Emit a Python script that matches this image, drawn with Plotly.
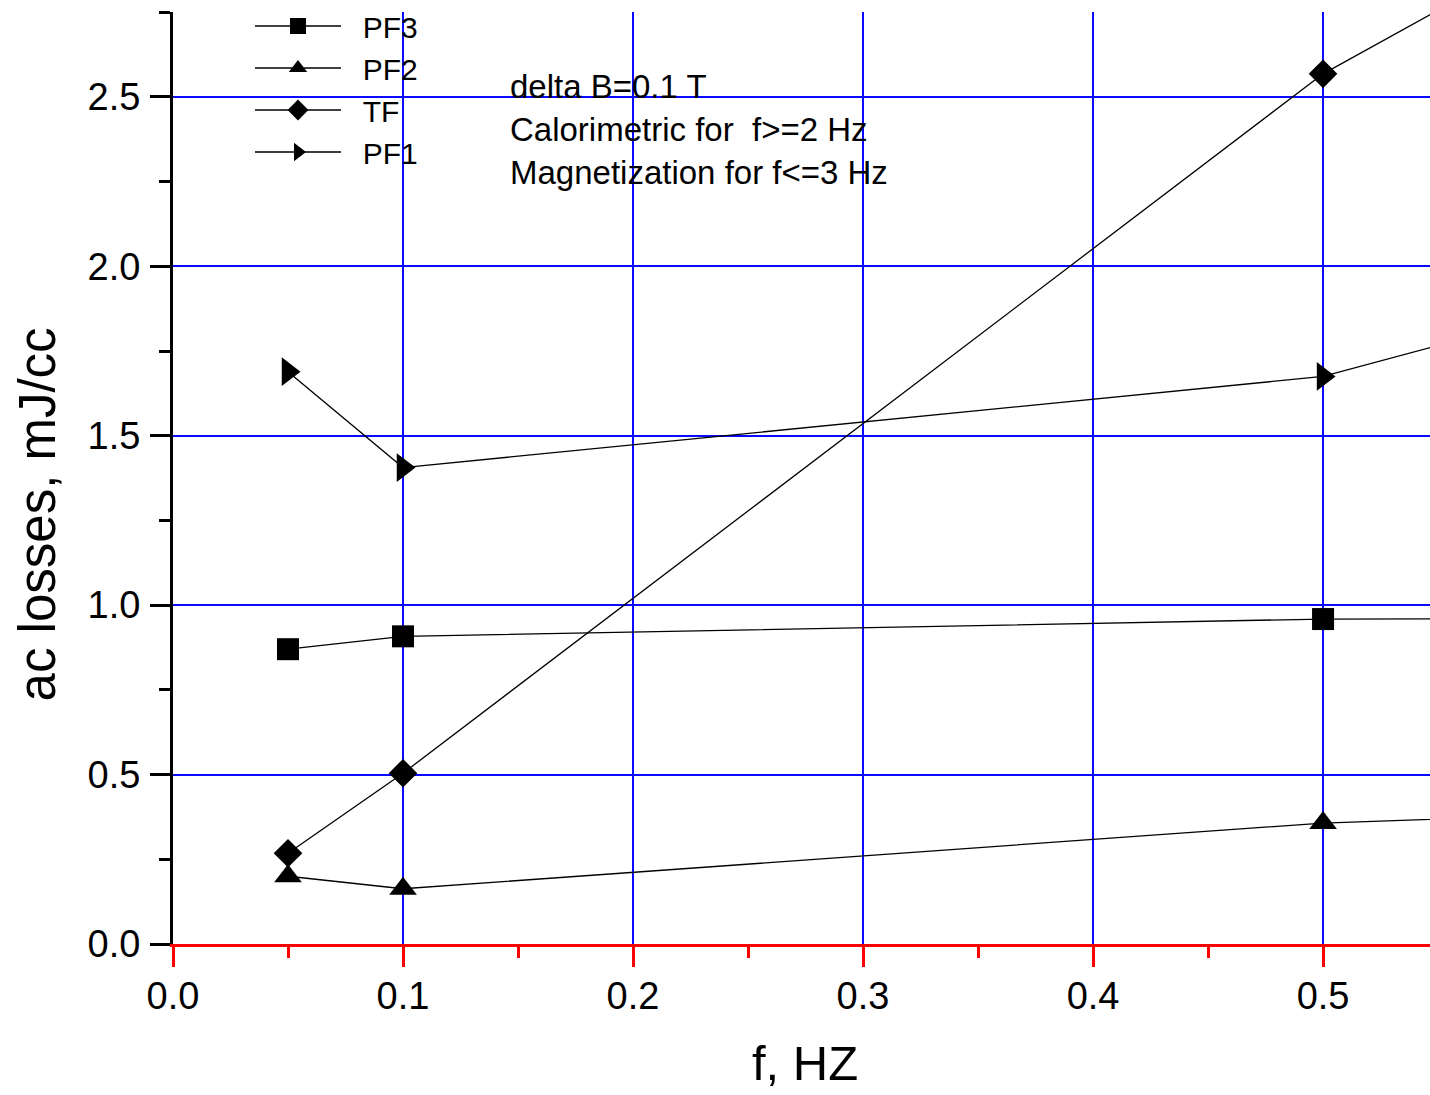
import plotly.graph_objects as go

# Data (f in Hz, ac losses in mJ/cc); last point of each series lies beyond the visible range
freq = [0.05, 0.1, 0.5, 1.0]
pf3 = [0.870, 0.908, 0.959, 0.962]
pf2 = [0.200, 0.163, 0.357, 0.47]
tf = [0.268, 0.504, 2.568, 4.44]
pf1 = [1.689, 1.406, 1.675, 2.59]

series_names = ["PF3", "PF2", "TF", "PF1"]
series_values = [pf3, pf2, tf, pf1]
symbols = ["square", "triangle-up", "diamond", "triangle-right"]
sizes = [22, 24, 22, 25]

x_ticks = [0.0, 0.1, 0.2, 0.3, 0.4, 0.5]
x_tick_labels = ["0.0", "0.1", "0.2", "0.3", "0.4", "0.5"]
y_ticks = [0.0, 0.5, 1.0, 1.5, 2.0, 2.5]
y_tick_labels = ["0.0", "0.5", "1.0", "1.5", "2.0", "2.5"]

FONT = "Liberation Sans, Arial, Helvetica, sans-serif"

fig = go.Figure()
for name, vals, sym, sz in zip(series_names, series_values, symbols, sizes):
    fig.add_trace(go.Scatter(
        x=freq, y=vals, name="\u00a0\u00a0" + name, mode="lines+markers",
        line=dict(color="black", width=1.3),
        marker=dict(symbol=sym, size=sz, color="black", line=dict(width=0)),
    ))

fig.update_layout(
    width=1430, height=1095,
    margin=dict(l=173, r=0, t=11, b=151),
    paper_bgcolor="white", plot_bgcolor="white",
    font=dict(family=FONT, color="black"),
    showlegend=True,
    legend=dict(
        x=(250 - 173) / 1257, y=1.013, xanchor="left", yanchor="top",
        font=dict(size=30, family=FONT, color="black"),
        bgcolor="rgba(0,0,0,0)", borderwidth=0,
        itemwidth=86, tracegroupgap=0,
    ),
    xaxis=dict(
        range=[0, 0.5465], tickvals=x_ticks, ticktext=x_tick_labels,
        showline=True, linecolor="red", linewidth=3,
        ticks="outside", ticklen=20, tickwidth=3, tickcolor="red",
        tickfont=dict(size=38, family=FONT, color="black"),
        ticklabelstandoff=-4,
        showgrid=True, gridcolor="#0a0aff", gridwidth=1.5,
        zeroline=False,
        minor=dict(dtick=0.05, tick0=0, ticks="outside", ticklen=11,
                   tickwidth=3, tickcolor="red", showgrid=False),
    ),
    yaxis=dict(
        range=[0, 2.7505], tickvals=y_ticks, ticktext=y_tick_labels,
        showline=True, linecolor="black", linewidth=3,
        ticks="outside", ticklen=20, tickwidth=3, tickcolor="black",
        tickfont=dict(size=38, family=FONT, color="black"),
        ticklabelstandoff=2,
        showgrid=True, gridcolor="#0a0aff", gridwidth=1.5,
        zeroline=False,
        minor=dict(dtick=0.25, tick0=0, ticks="outside", ticklen=11,
                   tickwidth=3, tickcolor="black", showgrid=False),
    ),
    annotations=[
        dict(text="ac losses, mJ/cc", xref="paper", yref="paper",
             x=(37 - 173) / 1257, y=(944 - 514) / 933, textangle=-90,
             showarrow=False, xanchor="center", yanchor="middle",
             font=dict(size=51, family=FONT, color="black")),
        dict(text="f, HZ", xref="paper", yref="paper",
             x=(805 - 173) / 1257, y=(944 - 1063) / 933,
             showarrow=False, xanchor="center", yanchor="middle",
             font=dict(size=49, family=FONT, color="black")),
        dict(text="delta B=0.1 T<br>Calorimetric for  f>=2 Hz<br>Magnetization for f<=3 Hz",
             xref="paper", yref="paper",
             x=(508 - 173) / 1257, y=(944 - 129) / 933,
             showarrow=False, xanchor="left", yanchor="middle", align="left",
             font=dict(size=33, family=FONT, color="black")),
    ],
)

fig.write_html("out.html")
